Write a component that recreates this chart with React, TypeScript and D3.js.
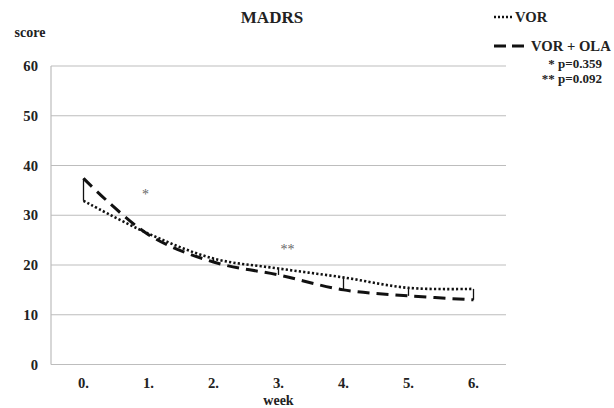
import React, { useEffect, useRef } from "react";
import * as d3 from "d3";

// chart data
const weeks = ["0.", "1.", "2.", "3.", "4.", "5.", "6."];
const vorScores = [32.9, 26.3, 21.3, 19.3, 17.5, 15.4, 15.2];
const vorOlaScores = [37.4, 26.1, 20.6, 18.0, 15.0, 13.8, 13.0];
const yTicks = [0, 10, 20, 30, 40, 50, 60];
const legendLabels = ["VOR", "VOR + OLA"];
const pValues = ["* p=0.359", "** p=0.092"];
const marks = [
  { week: "1.", value: 34.8, text: "*" },
  { week: "3.", value: 23.9, text: "**" },
];

const App: React.FC = () => {
  const ref = useRef<SVGSVGElement | null>(null);

  useEffect(() => {
    const svg = d3.select(ref.current);
    svg.selectAll("*").remove();

    const width = 614,
      height = 408,
      margin = { top: 66, right: 108, bottom: 43.5, left: 51 };
    const font = "'Liberation Serif', 'Times New Roman', serif";
    const ink = "#222";

    const x = d3
      .scaleBand()
      .domain(weeks)
      .range([margin.left, width - margin.right]);

    const y = d3
      .scaleLinear()
      .domain([0, 60])
      .range([height - margin.bottom, margin.top]);

    const cx = (w: string) => (x(w) || 0) + x.bandwidth() / 2;

    // gridlines
    svg
      .append("g")
      .selectAll("line")
      .data(yTicks)
      .enter()
      .append("line")
      .attr("x1", margin.left)
      .attr("x2", width - margin.right)
      .attr("y1", (d) => y(d))
      .attr("y2", (d) => y(d))
      .attr("stroke", "#bdbdbd")
      .attr("stroke-width", 1.2);

    // y axis line
    svg
      .append("line")
      .attr("x1", margin.left)
      .attr("x2", margin.left)
      .attr("y1", y(0))
      .attr("y2", y(60))
      .attr("stroke", "#bdbdbd")
      .attr("stroke-width", 1.2);

    // y tick labels
    svg
      .append("g")
      .selectAll("text")
      .data(yTicks)
      .enter()
      .append("text")
      .attr("x", 38)
      .attr("y", (d) => y(d) + 5)
      .attr("text-anchor", "end")
      .attr("font-family", font)
      .attr("font-weight", "bold")
      .attr("font-size", 14.67)
      .attr("fill", ink)
      .text((d) => d);

    // x tick labels
    svg
      .append("g")
      .selectAll("text")
      .data(weeks)
      .enter()
      .append("text")
      .attr("x", (d) => cx(d))
      .attr("y", 388)
      .attr("text-anchor", "middle")
      .attr("font-family", font)
      .attr("font-weight", "bold")
      .attr("font-size", 14.67)
      .attr("fill", ink)
      .text((d) => d);

    // titles
    svg
      .append("text")
      .attr("x", 272)
      .attr("y", 23)
      .attr("text-anchor", "middle")
      .attr("font-family", font)
      .attr("font-weight", "bold")
      .attr("font-size", 17)
      .attr("fill", ink)
      .text("MADRS");

    svg
      .append("text")
      .attr("x", 30)
      .attr("y", 37)
      .attr("text-anchor", "middle")
      .attr("font-family", font)
      .attr("font-weight", "bold")
      .attr("font-size", 14)
      .attr("fill", ink)
      .text("score");

    svg
      .append("text")
      .attr("x", (margin.left + width - margin.right) / 2)
      .attr("y", 405)
      .attr("text-anchor", "middle")
      .attr("font-family", font)
      .attr("font-weight", "bold")
      .attr("font-size", 14)
      .attr("fill", ink)
      .text("week");

    // high-low connectors between the series
    svg
      .append("g")
      .selectAll("line")
      .data(weeks)
      .enter()
      .append("line")
      .attr("x1", (d) => cx(d))
      .attr("x2", (d) => cx(d))
      .attr("y1", (_, i) => y(vorScores[i]))
      .attr("y2", (_, i) => y(vorOlaScores[i]))
      .attr("stroke", "#111")
      .attr("stroke-width", 1.3);

    const line = d3
      .line<number>()
      .x((_, i) => cx(weeks[i]))
      .y((d) => y(d))
      .curve(d3.curveCatmullRom.alpha(0.5));

    svg
      .append("path")
      .attr("d", line(vorOlaScores))
      .attr("fill", "none")
      .attr("stroke", "#111")
      .attr("stroke-width", 3)
      .attr("stroke-dasharray", "12,7");

    svg
      .append("path")
      .attr("d", line(vorScores))
      .attr("fill", "none")
      .attr("stroke", "#111")
      .attr("stroke-width", 2.6)
      .attr("stroke-dasharray", "2.2,2.2");

    // significance marks
    const markShift = [-3, 9];
    svg
      .append("g")
      .selectAll("text")
      .data(marks)
      .enter()
      .append("text")
      .attr("x", (d, i) => cx(d.week) + markShift[i])
      .attr("y", (d) => y(d.value) + 8)
      .attr("text-anchor", "middle")
      .attr("font-family", font)
      .attr("font-size", 14)
      .attr("fill", "#666")
      .text((d) => d.text);

    // legend
    const legend = svg.append("g");
    legend
      .append("line")
      .attr("x1", 494)
      .attr("x2", 514)
      .attr("y1", 17)
      .attr("y2", 17)
      .attr("stroke", "#111")
      .attr("stroke-width", 2.6)
      .attr("stroke-dasharray", "2,2");
    legend
      .append("line")
      .attr("x1", 494)
      .attr("x2", 524)
      .attr("y1", 46)
      .attr("y2", 46)
      .attr("stroke", "#111")
      .attr("stroke-width", 3)
      .attr("stroke-dasharray", "12,6");
    legend
      .selectAll("text.lbl")
      .data(legendLabels)
      .enter()
      .append("text")
      .attr("class", "lbl")
      .attr("x", (_, i) => (i === 0 ? 515 : 531))
      .attr("y", (_, i) => (i === 0 ? 22 : 51))
      .attr("font-family", font)
      .attr("font-weight", "bold")
      .attr("font-size", 14.67)
      .attr("fill", ink)
      .text((d) => d);
    legend
      .selectAll("text.p")
      .data(pValues)
      .enter()
      .append("text")
      .attr("class", "p")
      .attr("x", 602)
      .attr("y", (_, i) => 68 + i * 14.5)
      .attr("text-anchor", "end")
      .attr("font-family", font)
      .attr("font-weight", "bold")
      .attr("font-size", 13)
      .attr("fill", ink)
      .text((d) => d);
  }, []);

  return (
    <svg
      ref={ref}
      width={614}
      height={408}
      style={{ position: "absolute", left: 0, top: 0, background: "#fff" }}
    ></svg>
  );
};

export default App;
